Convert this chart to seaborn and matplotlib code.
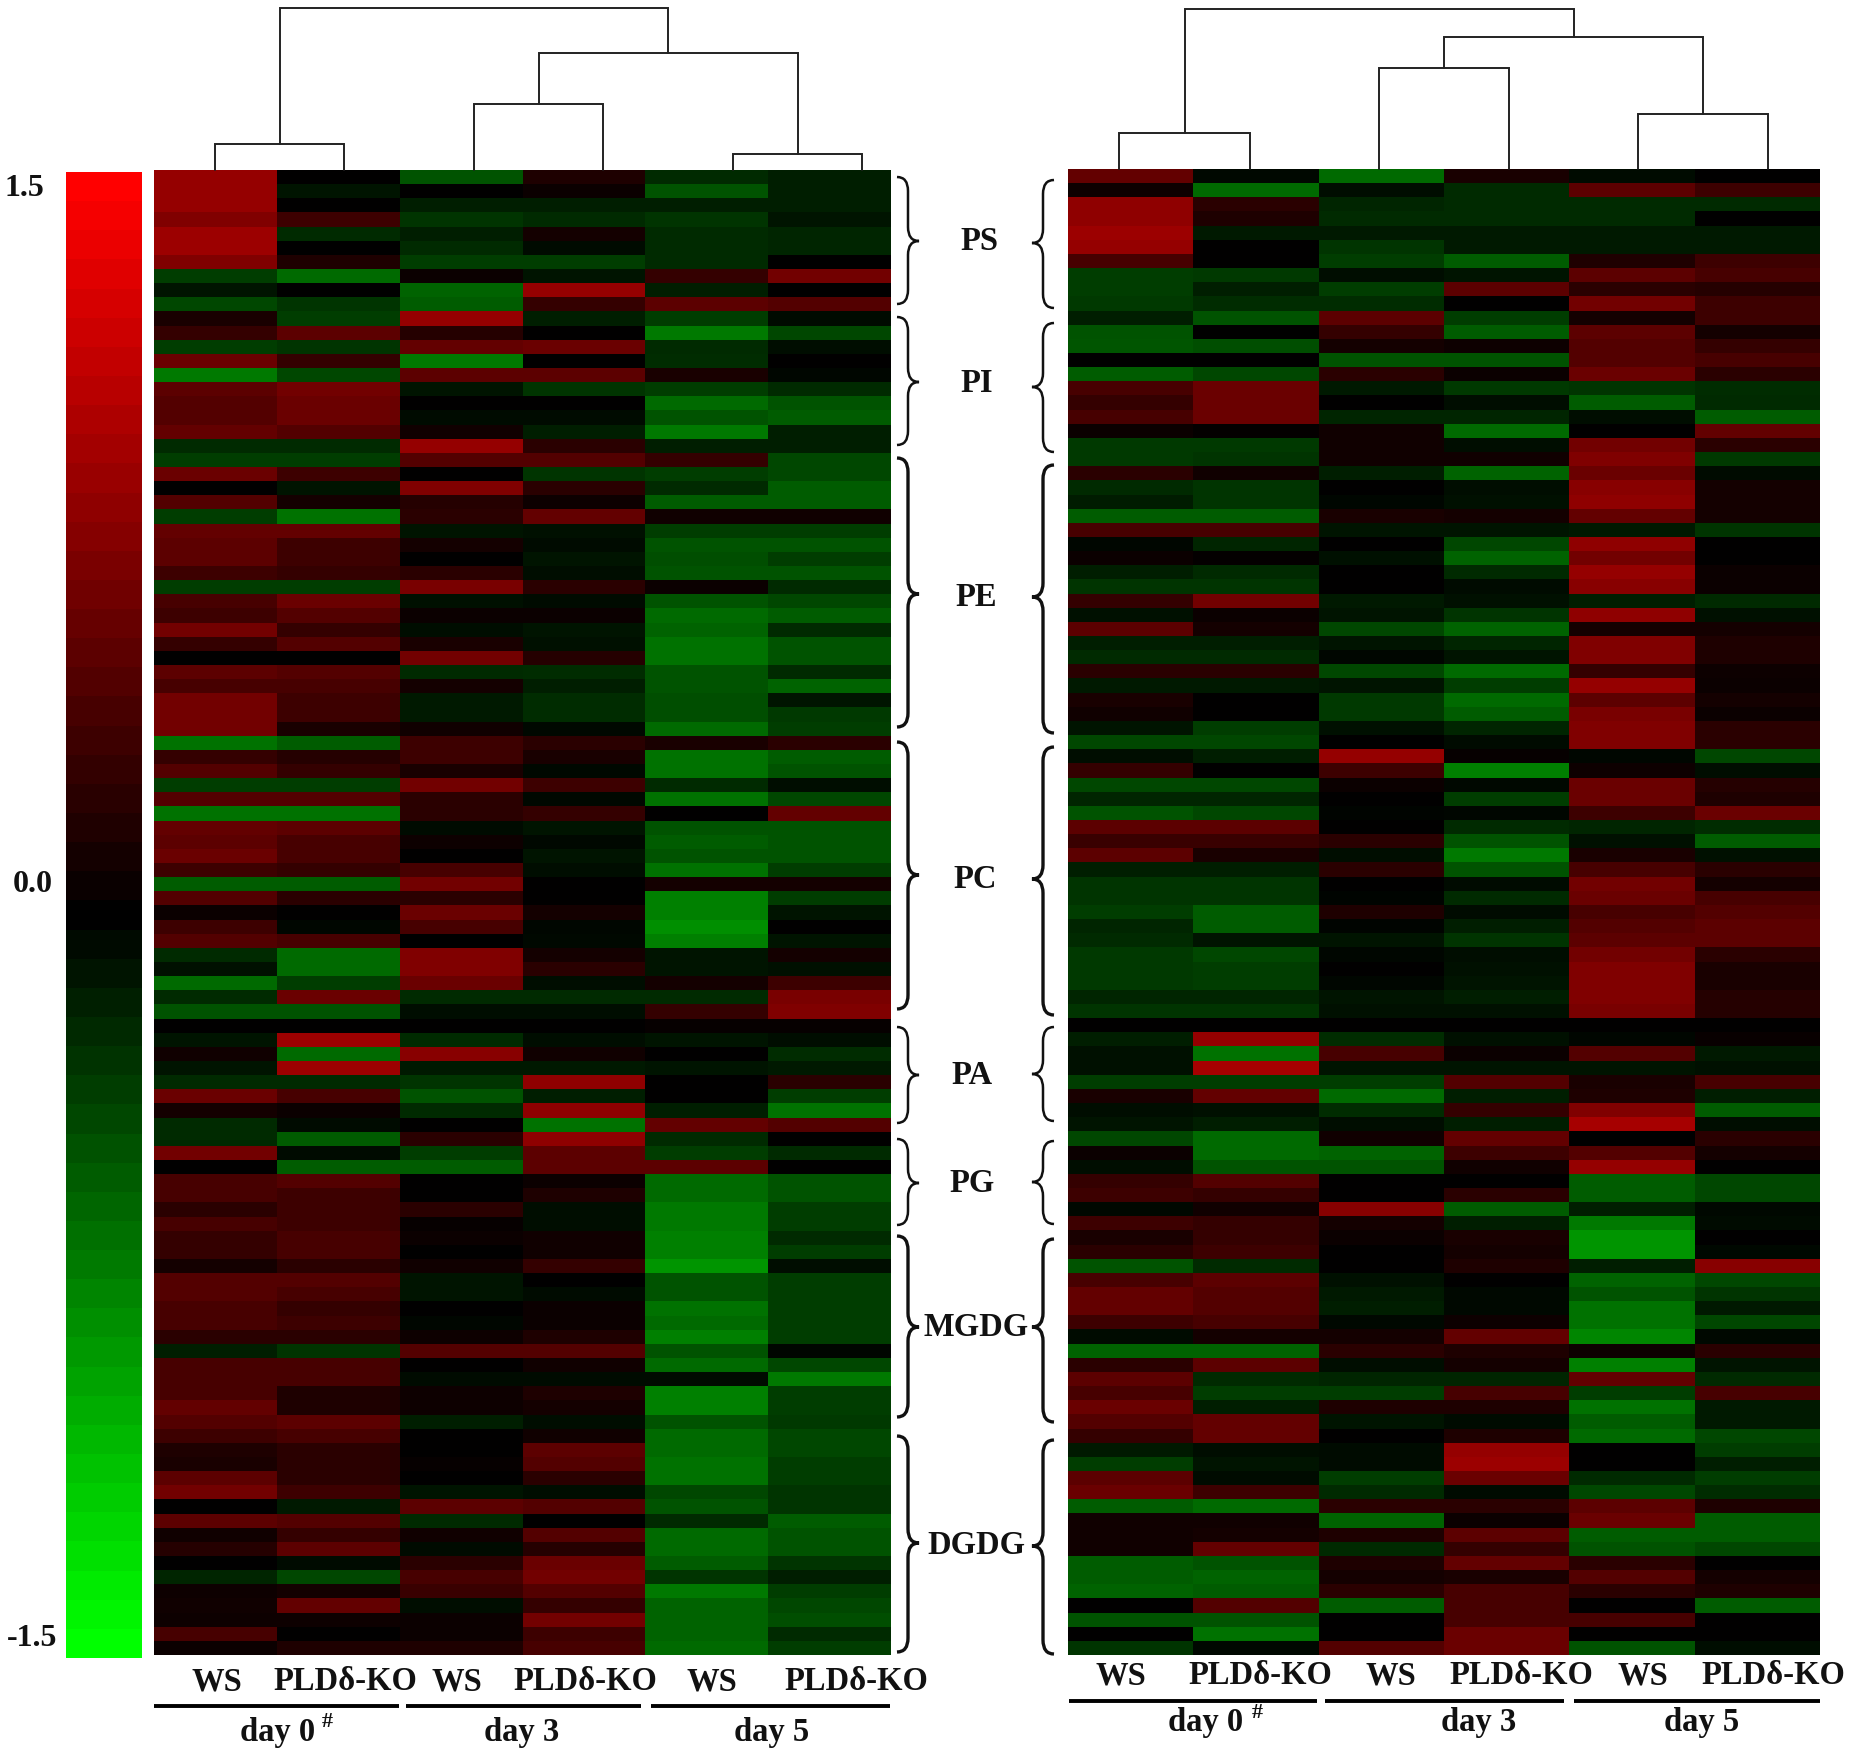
import numpy as np
import pandas as pd
import matplotlib
matplotlib.use("Agg")
import matplotlib.pyplot as plt
from matplotlib.cm import ScalarMappable
from matplotlib.colors import LinearSegmentedColormap, Normalize
from matplotlib.path import Path
from matplotlib.patches import PathPatch
import seaborn as sns

# Configuration
W, H = 1850, 1752
FONT = "Liberation Serif"

samples = ["d0 WS", "d0 KO", "d3 WS", "d3 KO", "d5 WS", "d5 KO"]
sample_labels = ["WS", "PLDδ-KO", "WS", "PLDδ-KO", "WS", "PLDδ-KO"]
day_labels = ["day 0", "day 3", "day 5"]
classes = ["PS", "PI", "PE", "PC", "PA", "PG", "MGDG", "DGDG"]
scale_labels = ["1.5", "0.0", "-1.5"]

# dendrogram merge heights, in pixels from the top of the picture
left_merges = [144, 104, 154, 53, 8]
right_merges = [133, 68, 114, 37, 9]

left_values = [
    [.85, 0, -.4, .15, -.2, -.15], [.85, -.1, 0, .05, -.4, -.15], [.85, 0, -.15, -.15, -.15, -.15],
    [.7, .3, -.25, -.2, -.25, -.1], [.9, -.2, -.15, .1, -.2, -.18], [.9, 0, -.2, -.05, -.2, -.18],
    [.7, .15, -.3, -.3, -.2, 0], [-.3, -.55, .05, -.1, .25, .6], [-.1, 0, -.5, .85, -.15, 0],
    [-.35, -.25, -.45, .25, .45, .4], [.12, -.3, .85, -.15, -.3, -.05], [.25, .45, .18, 0, -.65, -.35],
    [-.3, -.25, .5, .55, -.2, -.07], [.55, .25, -.65, 0, -.22, 0], [-.65, -.35, .45, .45, .12, -.03],
    [.45, .6, -.1, -.25, -.3, -.2], [.4, .55, 0, 0, -.55, -.4], [.4, .55, -.05, -.05, -.4, -.45],
    [.5, .4, .08, -.15, -.65, -.15], [-.2, -.2, .85, .2, -.15, -.15], [-.3, -.3, .4, .4, .25, -.35],
    [.55, .3, 0, -.25, -.3, -.35], [0, -.1, .7, .2, -.2, -.45], [.4, .1, .18, .06, -.45, -.45],
    [-.3, -.6, .2, .5, .08, .08], [.5, .5, -.1, -.08, -.3, -.3], [.45, .3, .1, -.05, -.4, -.4],
    [.45, .3, 0, -.1, -.38, -.3], [.3, .25, .2, -.06, -.4, -.4], [-.3, -.3, .65, .2, .05, -.2],
    [.35, .55, -.08, -.05, -.4, -.35], [.3, .4, .05, .05, -.55, -.45], [.6, .25, -.07, -.1, -.5, -.2],
    [.25, .4, .12, -.08, -.6, -.4], [0, 0, .6, .18, -.6, -.4], [.45, .4, -.2, -.22, -.4, -.2],
    [.35, .35, .1, -.15, -.4, -.5], [.6, .3, -.12, -.22, -.38, -.1], [.6, .3, -.12, -.22, -.38, -.28],
    [.6, .12, .08, -.04, -.55, -.3], [-.6, -.45, .3, .2, .12, .2], [.25, .18, .3, .12, -.6, -.45],
    [.4, .25, .12, -.04, -.6, -.4], [-.3, -.3, .6, .3, -.2, -.07], [.4, .4, .2, -.04, -.6, -.35],
    [-.6, -.6, .2, .25, 0, .5], [.5, .45, -.05, -.1, -.4, -.4], [.45, .35, .07, -.04, -.45, -.4],
    [.55, .35, 0, -.1, -.4, -.4], [.3, .25, .35, -.07, -.6, -.3], [-.45, -.45, .6, 0, .1, .1],
    [.4, .2, .2, 0, -.7, -.3], [.05, 0, .55, .1, -.7, -.1], [.3, -.03, .35, -.03, -.8, 0],
    [.4, .35, 0, -.04, -.7, -.1], [-.2, -.55, .7, .1, -.1, .1], [-.08, -.55, .7, .2, -.1, -.08],
    [-.55, -.3, .55, -.07, .1, .3], [-.2, .55, -.2, -.2, -.2, .65], [-.4, -.4, -.07, -.07, .25, .7],
    [0, 0, 0, 0, .03, .03], [-.1, .9, -.2, -.06, -.1, -.07], [.08, -.55, .75, .08, 0, -.22],
    [-.1, .9, -.12, -.12, -.1, -.12], [-.2, -.2, -.25, .8, 0, .2], [.55, .35, -.4, -.15, 0, -.3],
    [.1, .05, -.2, .8, -.15, -.6], [-.2, -.05, 0, -.6, .5, .4], [-.2, -.45, .2, .8, -.2, 0],
    [.6, -.05, -.3, .45, -.3, -.2], [0, -.45, -.45, .45, .45, 0], [.35, .4, 0, .05, -.55, -.4],
    [.35, .3, 0, .15, -.55, -.4], [.2, .3, .2, -.06, -.65, -.3], [.35, .3, .03, -.06, -.65, -.3],
    [.25, .35, .05, .08, -.7, -.2], [.25, .35, 0, .08, -.7, -.3], [.1, .2, .08, .25, -.85, -.07],
    [.4, .4, -.1, 0, -.4, -.3], [.4, .35, -.1, -.05, -.4, -.3], [.35, .25, 0, .05, -.6, -.3],
    [.35, .3, -.03, .05, -.55, -.3], [.2, .2, .06, .15, -.7, -.3], [-.15, -.25, .4, .4, -.4, -.03],
    [.35, .35, 0, .08, -.55, -.35], [.35, .35, -.05, -.05, -.05, -.65], [.35, .15, .07, .15, -.7, -.3],
    [.5, .15, .07, .1, -.7, -.3], [.4, .45, -.15, -.07, -.4, -.28], [.3, .35, 0, .08, -.55, -.35],
    [.15, .2, 0, .45, -.55, -.35], [.12, .2, .03, .4, -.6, -.3], [.45, .2, 0, .2, -.6, -.3],
    [.6, .3, -.1, -.06, -.35, -.25], [0, -.12, .45, .4, -.4, -.25], [.45, .4, -.2, 0, -.2, -.45],
    [.08, .25, .08, .4, -.55, -.4], [.18, .45, -.05, .18, -.55, -.4], [0, -.05, .2, .55, -.45, -.25],
    [-.18, -.35, .35, .6, -.25, -.15], [.07, .1, .28, .4, -.65, -.3], [.08, .5, -.06, .25, -.5, -.35],
    [.06, .06, .05, .6, -.5, -.38], [.35, 0, .05, .3, -.5, -.2], [.05, .15, .15, .35, -.55, -.3],
]

right_values = [
    [.5, -.04, -.55, .12, -.05, 0], [.06, -.55, -.06, -.2, .45, .3], [.8, .2, -.18, -.2, -.2, -.2],
    [.8, .15, -.2, -.2, -.2, 0], [.9, -.12, -.12, -.12, -.12, -.12], [.85, 0, -.25, -.12, -.12, -.12],
    [.35, 0, -.3, -.45, .15, .3], [-.3, -.28, -.07, -.1, .45, .35], [-.3, -.15, -.3, .45, .2, .18],
    [-.28, -.22, -.22, 0, .6, .3], [-.15, -.4, .45, -.3, .1, .3], [-.4, 0, .25, -.45, .45, .1],
    [-.42, -.38, .1, .06, .4, .25], [0, 0, -.4, -.4, .4, .35], [-.45, -.35, .2, .05, .55, .2],
    [.35, .55, -.12, -.28, -.25, -.22], [.25, .55, 0, -.07, -.45, -.2], [.35, .55, -.18, -.18, -.06, -.45],
    [.05, .02, .08, -.55, 0, .5], [-.28, -.28, .08, -.06, .6, .2], [-.28, -.25, .08, .08, .7, -.28],
    [.2, .08, -.15, -.5, .55, -.05], [-.2, -.25, 0, -.06, .75, .1], [-.13, -.25, -.03, -.08, .8, .1],
    [-.45, -.45, .12, .1, .5, .1], [.35, .35, -.1, -.1, -.12, -.25], [-.03, -.18, 0, -.35, .8, 0],
    [.05, .02, -.08, -.5, .6, 0], [-.15, -.2, 0, -.2, .85, .05], [-.25, -.25, 0, -.05, .75, .05],
    [.25, .6, -.12, -.08, -.15, -.2], [-.08, .05, -.1, -.25, .8, -.08], [.45, .1, -.35, -.5, .1, .1],
    [-.15, -.15, -.1, -.18, .7, .15], [-.2, -.2, -.03, -.1, .7, .15], [.2, .2, -.35, -.55, .25, .06],
    [-.12, -.12, -.1, -.3, .85, .05], [.12, 0, -.28, -.55, .45, .1], [.08, 0, -.28, -.45, .65, .05],
    [-.1, -.3, -.08, -.18, .7, .2], [-.35, -.35, 0, -.05, .7, .2], [-.06, -.15, .85, .03, -.03, -.35],
    [.25, 0, .3, -.7, .06, -.06], [-.35, -.35, .05, -.04, .55, .18], [-.18, -.18, 0, -.3, .55, .15],
    [-.4, -.35, -.02, -.03, .3, .55], [.45, .45, 0, -.2, -.18, -.22], [.28, .28, .2, -.4, -.08, -.45],
    [.45, .12, -.06, -.65, .12, -.08], [-.15, -.15, .2, -.4, .35, .2], [-.25, -.25, 0, -.05, .6, .1],
    [-.25, -.25, -.02, -.2, .55, .35], [-.3, -.45, .15, -.05, .35, .4], [-.18, -.45, -.02, -.15, .4, .45],
    [-.2, -.1, -.1, -.25, .45, .45], [-.28, -.35, -.03, -.07, .6, .2], [-.28, -.3, 0, -.08, .7, .12],
    [-.28, -.3, -.03, -.1, .7, .12], [-.18, -.18, -.1, -.15, .7, .18], [-.25, -.25, -.08, -.08, .65, .18],
    [0, 0, .01, 0, .01, 0], [-.15, .85, -.22, -.08, -.03, .04], [-.08, -.6, .35, .05, .4, -.12],
    [-.08, .95, -.1, -.1, -.1, -.08], [-.3, -.3, -.3, .4, .12, .35], [.12, .5, -.55, -.15, .15, -.15],
    [-.07, -.08, -.22, .25, .7, -.45], [-.1, -.15, -.07, -.15, .95, -.06], [-.35, -.55, .08, .5, 0, .2],
    [.05, -.55, -.5, .3, .4, .1], [-.06, -.4, -.4, .08, .85, 0], [.25, .4, 0, 0, -.45, -.35],
    [.3, .25, 0, .2, -.45, -.35], [-.04, .08, .75, -.45, -.15, -.04], [.3, .25, .1, -.15, -.65, -.05],
    [.12, .25, .05, .12, -.85, 0], [.2, .3, 0, .1, -.85, -.04], [-.4, -.2, 0, .15, -.15, .75],
    [.35, .45, -.08, 0, -.5, -.35], [.5, .4, -.12, -.04, -.4, -.25], [.5, .4, -.15, -.04, -.6, -.12],
    [.3, .35, -.04, .06, -.6, -.35], [-.05, .1, .1, .5, -.75, -.04], [-.5, -.5, .2, .15, .07, .2],
    [.2, .45, -.07, .1, -.7, -.1], [.45, -.2, -.18, -.18, .5, -.2], [.35, -.3, -.3, .35, -.3, .35],
    [.55, -.15, .15, .15, -.6, -.12], [.4, .5, -.1, -.05, -.45, -.12], [.25, .5, 0, .15, -.55, -.35],
    [-.12, -.06, -.05, .85, 0, -.3], [-.3, -.1, -.05, .9, 0, -.15], [.45, -.05, -.3, .55, -.2, -.3],
    [.55, .3, -.2, -.05, -.35, -.22], [-.45, -.55, .2, .2, .45, .15], [.08, .08, -.5, .05, .55, -.45],
    [.08, .1, .15, .45, -.45, -.45], [.08, .5, -.2, .25, -.4, -.35], [-.45, -.4, .15, .5, .2, 0],
    [-.45, -.5, .1, .12, .4, .1], [-.5, -.45, .2, .35, .2, .15], [0, .4, -.45, .35, 0, -.45],
    [-.4, -.4, 0, .35, .35, 0], [0, -.6, 0, .55, 0, 0], [-.25, -.04, .4, .55, -.4, -.06],
]


def px_axes(fig, x0, y0, x1, y1):
    return fig.add_axes([x0 / W, 1 - y1 / H, (x1 - x0) / W, (y1 - y0) / H])


def draw_dendrogram(ax, leaves, merges, bottom):
    h01, h23, h45, h2345, top = merges
    mid01 = (leaves[0] + leaves[1]) / 2
    mid23 = (leaves[2] + leaves[3]) / 2
    mid45 = (leaves[4] + leaves[5]) / 2
    mid2345 = (mid23 + mid45) / 2
    segs = [
        ([leaves[0], leaves[0], leaves[1], leaves[1]], [bottom, h01, h01, bottom]),
        ([leaves[2], leaves[2], leaves[3], leaves[3]], [bottom, h23, h23, bottom]),
        ([leaves[4], leaves[4], leaves[5], leaves[5]], [bottom, h45, h45, bottom]),
        ([mid23, mid23, mid45, mid45], [h23, h2345, h2345, h45]),
        ([mid01, mid01, mid2345, mid2345], [h01, top, top, h2345]),
    ]
    for xs, ys in segs:
        ax.plot(xs, ys, color="#222222", lw=1.4, solid_joinstyle="miter")


def draw_brace(ax, y0, ym, y1, x_end, x_body, x_tip, lw):
    r = 14
    verts = [(x_end, y0), (x_body, y0), (x_body, y0 + r), (x_body, ym - r), (x_body, ym), (x_tip, ym),
             (x_body, ym), (x_body, ym + r), (x_body, y1 - r), (x_body, y1), (x_end, y1)]
    codes = [Path.MOVETO, Path.CURVE3, Path.CURVE3, Path.LINETO, Path.CURVE3, Path.CURVE3,
             Path.CURVE3, Path.CURVE3, Path.LINETO, Path.CURVE3, Path.CURVE3]
    ax.add_patch(PathPatch(Path(verts, codes), fc="none", ec="#111111", lw=lw))


sns.set_theme(style="white")
plt.rcParams["font.family"] = [FONT, "DejaVu Serif"]

# stepped ramp for the scale bar
bar_cmap = LinearSegmentedColormap.from_list("rbg", ["#00ff00", "#000000", "#ff0000"], N=51)
# the cells read a little brighter in the mid tones than the bar does
cell_cmap = LinearSegmentedColormap.from_list("cells", [
    (0.0, "#00ff00"), (0.2, "#009c00"), (0.35, "#005c00"), (0.5, "#000000"),
    (0.65, "#5c0000"), (0.8, "#9c0000"), (1.0, "#ff0000")])

fig = plt.figure(figsize=(W / 100, H / 100), dpi=100, facecolor="white")

# Heatmaps
ax_left = px_axes(fig, 154, 170, 891, 1655)
sns.heatmap(pd.DataFrame(left_values, columns=samples), ax=ax_left, cmap=cell_cmap, vmin=-1.5, vmax=1.5,
            xticklabels=False, yticklabels=False, cbar=False)

ax_right = px_axes(fig, 1068, 169, 1820, 1655)
sns.heatmap(pd.DataFrame(right_values, columns=samples), ax=ax_right, cmap=cell_cmap, vmin=-1.5, vmax=1.5,
            xticklabels=False, yticklabels=False, cbar=False)

# Scale bar
cax = px_axes(fig, 66, 172, 142, 1658)
cbar = fig.colorbar(ScalarMappable(Normalize(-1.5, 1.5), bar_cmap), cax=cax)
cbar.set_ticks([])
cbar.outline.set_visible(False)

# Overlay in picture pixels for dendrograms, braces and text
ov = fig.add_axes([0, 0, 1, 1], zorder=5)
ov.set_xlim(0, W)
ov.set_ylim(H, 0)
ov.axis("off")
ov.patch.set_alpha(0)

draw_dendrogram(ov, [215, 344, 474, 603, 733, 862], left_merges, 170)
draw_dendrogram(ov, [1119, 1250, 1379, 1509, 1638, 1768], right_merges, 169)

left_spans = [(177, 241, 304), (317, 382, 445), (458, 594, 727), (742, 875, 1009),
              (1027, 1075, 1123), (1139, 1183, 1225), (1236, 1327, 1417), (1436, 1543, 1652)]
right_spans = [(180, 243, 308), (323, 387, 452), (465, 597, 733), (747, 879, 1015),
               (1027, 1074, 1121), (1141, 1182, 1224), (1239, 1327, 1422), (1440, 1546, 1654)]
class_pos = [(979, 241), (977, 383), (976, 597), (975, 880), (972, 1075), (972, 1183), (976, 1327), (976, 1545)]

for i, name in enumerate(classes):
    lw = 2.4 if name in ("PE", "PC", "DGDG", "MGDG") else 1.8
    y0, ym, y1 = left_spans[i]
    draw_brace(ov, y0, ym, y1, 897, 908, 919, lw)
    y0, ym, y1 = right_spans[i]
    draw_brace(ov, y0, ym, y1, 1054, 1043, 1032, lw)
    ov.text(class_pos[i][0], class_pos[i][1], name, ha="center", va="center",
            fontsize=23.5, fontweight="bold", color="#111111")

for label, x, y in zip(scale_labels, [24, 33, 32], [188, 885, 1639]):
    ov.text(x, y, label, ha="center", va="center", fontsize=23, fontweight="bold", color="#111111")

left_label_x = [217, 345, 457, 585, 712, 856]
right_label_x = [1121, 1260, 1391, 1521, 1643, 1773]
for label, x in zip(sample_labels, left_label_x):
    ov.text(x, 1682, label, ha="center", va="center", fontsize=23.5, fontweight="bold", color="#111111")
for label, x in zip(sample_labels, right_label_x):
    ov.text(x, 1676, label, ha="center", va="center", fontsize=23.5, fontweight="bold", color="#111111")

for x0, x1 in [(154, 399), (406, 641), (651, 890)]:
    ov.plot([x0, x1], [1706, 1706], color="black", lw=2.8, solid_capstyle="butt")
for x0, x1 in [(1069, 1317), (1325, 1564), (1574, 1820)]:
    ov.plot([x0, x1], [1701, 1701], color="black", lw=2.8, solid_capstyle="butt")

for label, x in zip(day_labels, [278, 522, 772]):
    ov.text(x, 1732, label, ha="center", va="center", fontsize=23.5, fontweight="bold", color="#111111")
for label, x in zip(day_labels, [1206, 1479, 1702]):
    ov.text(x, 1723, label, ha="center", va="center", fontsize=23.5, fontweight="bold", color="#111111")
ov.text(327, 1722, "#", ha="center", va="center", fontsize=16, fontweight="bold", color="#111111")
ov.text(1257, 1713, "#", ha="center", va="center", fontsize=16, fontweight="bold", color="#111111")

fig.savefig("out.png", dpi=100, facecolor="white")
plt.close(fig)
